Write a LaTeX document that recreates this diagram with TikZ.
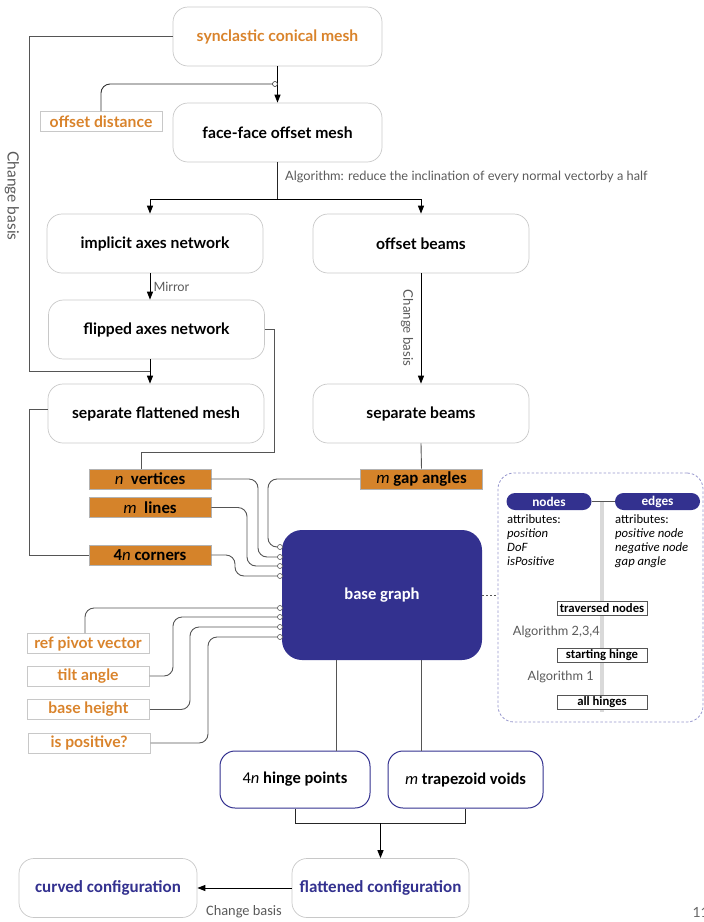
\documentclass[tikz,border=0pt]{standalone}
\usepackage{fontspec}
\setmainfont{Lato}
\newfontfamily\carl{Carlito}
\usetikzlibrary{arrows.meta,backgrounds}
\definecolor{lblorange}{RGB}{217,131,43}
\definecolor{countfill}{RGB}{213,131,42}
\definecolor{navy}{RGB}{51,49,143}
\definecolor{boxgray}{RGB}{200,200,200}
\definecolor{wiregray}{RGB}{85,85,85}
\definecolor{notegray}{RGB}{90,90,90}
\definecolor{dashblue}{RGB}{150,150,205}

\begin{document}
\begin{tikzpicture}[x=1pt,y=-1pt,font=\fontsize{14}{16}\selectfont,
box/.style={draw=boxgray, line width=0.7pt, rounded corners=15pt, minimum width=216pt,
    minimum height=59pt, inner sep=0pt, font=\fontsize{15.7}{18}\selectfont\bfseries},
param/.style={draw=boxgray, line width=1pt, minimum width=122pt, minimum height=20pt,
    inner sep=0pt, text=lblorange, font=\fontsize{15.7}{18}\selectfont\bfseries},
count/.style={draw=black!30, line width=0.6pt, fill=countfill, minimum width=122pt,
    minimum height=20pt, inner sep=0pt, font=\carl\fontsize{16.8}{18}\selectfont\bfseries},
result/.style={box, draw=navy, line width=1pt, minimum height=57pt, font=\carl\fontsize{16.5}{18}\selectfont\bfseries},
config/.style={box, text=navy, font=\carl\fontsize{17}{19}\selectfont\bfseries},
pill/.style={fill=navy, text=white, rounded corners=8.5pt, minimum width=85pt, minimum height=17pt,
    inner sep=0pt, font=\carl\fontsize{13.3}{15}\selectfont\bfseries},
tag/.style={draw=wiregray, fill=white, line width=0.8pt, minimum width=90pt, minimum height=14pt,
    inner sep=0pt, font=\carl\fontsize{12.7}{14}\selectfont\bfseries},
attr/.style={align=left, inner sep=1pt, font=\carl\fontsize{12.7}{14.3}\selectfont},
note/.style={text=notegray, inner sep=1pt, font=\fontsize{12.8}{15}\selectfont},
wire/.style={draw=wiregray, line width=0.9pt},
link/.style={wire, rounded corners=9pt},
trunk/.style={draw=black!85, line width=1pt},
flow/.style={draw=black, line width=1pt, -{Triangle[length=8pt,width=6pt]}},
port/.style={circle, draw=wiregray, fill=white, line width=0.6pt, minimum size=5pt, inner sep=0pt},
spine/.style={draw=black!15, line width=4pt}]
\useasboundingbox (0,0) rectangle (704,922);

\node[box, text=lblorange, minimum width=209pt] (synclastic) at (277.5,36.5) {synclastic conical mesh};
\node[box, minimum width=209pt] (faceface) at (277.5,132.5) {face-face offset mesh};
\node[param] (offdist) at (101,121.5) {offset distance};
\node[box] (implicit) at (155,243.5) {implicit axes network};
\node[box] (beams) at (421,243.5) {offset beams};
\node[box] (flipped) at (156.5,329.5) {flipped axes network};
\node[box] (sepflat) at (156,413.5) {separate flattened mesh};
\node[box] (sepbeams) at (421,413.5) {separate beams};
\node[count] (nvert) at (150,479) {{\mdseries\itshape n}~~vertices};
\node[count] (mlines) at (150,507.5) {{\mdseries\itshape m}~~lines};
\node[count] (corners) at (150,555) {4{\mdseries\itshape n} corners};
\node[count] (gapang) at (421.5,479) {{\mdseries\itshape m} gap angles};
\node[fill=navy, text=white, rounded corners=20pt, minimum width=200pt, minimum height=130pt,
    font=\carl\fontsize{16.6}{18}\selectfont\bfseries] (base) at (382,595) {base graph};
\node[param] (refpiv) at (88,643.5) {ref pivot vector};
\node[param] (tilt) at (88,676) {tilt angle};
\node[param] (baseh) at (88.5,709.5) {base height};
\node[param] (ispos) at (89,743) {is positive?};
\node[result, minimum width=150pt] (hinge) at (295,779.5) {{\mdseries 4\textit{n}} hinge points};
\node[result, minimum width=155pt] (trap) at (465.5,779.5) {{\mdseries\itshape m} trapezoid voids};
\node[config, minimum width=178pt] (curved) at (108,888) {curved configuration};
\node[config, minimum width=177pt] (flat) at (380.5,888) {flattened configuration};

\coordinate (tap) at (275,84);
\coordinate (split) at (277.5,199);
\coordinate (merge) at (150,371);
\coordinate (leftrail) at (29,371);
\coordinate (fold) at (274,452);
\coordinate (join) at (380.5,823);
\foreach \i/\y in {1/547,2/557,3/566,4/576,5/608,6/617,7/627,8/637}
  \coordinate (p\i) at (280,\y);

\draw[flow] (synclastic.south) -- (faceface.north);
\draw[link, draw=black!80] (offdist.north) |- (tap);
\node[port, draw=black!80] at (tap) {};
\draw[wire] (synclastic.west) -| (leftrail) -- (merge);
\node[note, rotate=-90, font=\fontsize{15.5}{17}\selectfont] at (12,196) {Change basis};
\draw[trunk] (faceface.south) -- (split);
\draw[flow] (split) -| (implicit.north -| merge);
\draw[flow] (split) -| (beams.north);
\node[note, anchor=west] at (284,177) {Algorithm: reduce the inclination of every normal vectorby a half};
\draw[flow] (implicit.south -| merge) -- node[note, right=2pt] {Mirror} (flipped.north -| merge);
\draw[flow] (flipped.south -| merge) -- (sepflat.north -| merge);
\draw[wire] (flipped.east) -| (fold) -| ([xshift=-9pt]nvert.north);
\draw[wire] ([yshift=4pt]sepflat.west) -| (corners.west -| leftrail) -- (corners.west);
\draw[flow] (beams.south) -- (sepbeams.north);
\node[note, rotate=-90, font=\fontsize{13.3}{15}\selectfont] at (407,328) {Change basis};
\draw[wire] (sepbeams.south) -- (gapang.north);

\draw[link] (gapang.west) -| ([xshift=-12pt]p1) -- (p1);
\draw[link] (nvert.east) -| ([xshift=-22pt]p2) -- (p2);
\draw[link] (mlines.east) -| ([xshift=-33pt]p3) -- (p3);
\draw[link] (corners.east) -| ([xshift=-45pt]p4) -- (p4);
\draw[link] ([xshift=-3pt]refpiv.north) |- (p5);
\draw[link] (tilt.east) -| ([xshift=-107pt]p6) -- (p6);
\draw[link] (baseh.east) -| ([xshift=-90pt]p7) -- (p7);
\draw[link] (ispos.east) -| ([xshift=-72pt]p8) -- (p8);
\foreach \i in {1,...,8}
  \node[port] at (p\i) {};

\draw[wire] ([xshift=-46pt]base.south) -- ([xshift=-46pt]base.south |- hinge.north);
\draw[wire] ([xshift=39pt]base.south) -- ([xshift=39pt]base.south |- trap.north);
\draw[trunk] (hinge.south) |- (join) -| (trap.south);
\draw[flow] (join) -- (flat.north);
\draw[flow] (flat.west) -- (curved.east);
\node[note, font=\carl\fontsize{14.4}{16}\selectfont] at (244,912) {Change basis};

\node[draw=dashblue, dash pattern=on 2.5pt off 2pt, line width=0.8pt, rounded corners=16pt,
    minimum width=205pt, minimum height=249pt] (info) at (600.5,597.5) {};
\draw[wire, dash pattern=on 2pt off 2pt] (base.east) -- (base.east -| info.west);
\node[pill] (nodespill) at (549,501.5) {nodes};
\node[pill] (edgespill) at (657.5,501.5) {edges};
\draw[wire] (nodespill) -- (edgespill);
\node[attr, anchor=north west] (nodeattr) at (506,513)
  {attributes:\\\textit{position}\\\textit{DoF}\\\textit{isPositive}};
\node[attr, anchor=north west] (edgeattr) at (614,513)
  {attributes:\\\textit{positive node}\\\textit{negative node}\\\textit{gap angle}};
\node[tag] (trav) at (602,608.5) {traversed nodes};
\node[tag] (start) at (602,655.5) {starting hinge};
\node[tag] (allh) at (602,702) {all hinges};
\node[note, anchor=east] at (601,632) {Algorithm 2,3,4};
\node[note, anchor=east] at (595,677) {Algorithm 1};
\begin{scope}[on background layer]
\draw[spine] (trav |- nodespill) -- ([yshift=-3pt]trav |- allh.south);
\end{scope}

\node[text=black!60, anchor=west] (pagenum) at (689,912) {11};
\end{tikzpicture}
\end{document}
